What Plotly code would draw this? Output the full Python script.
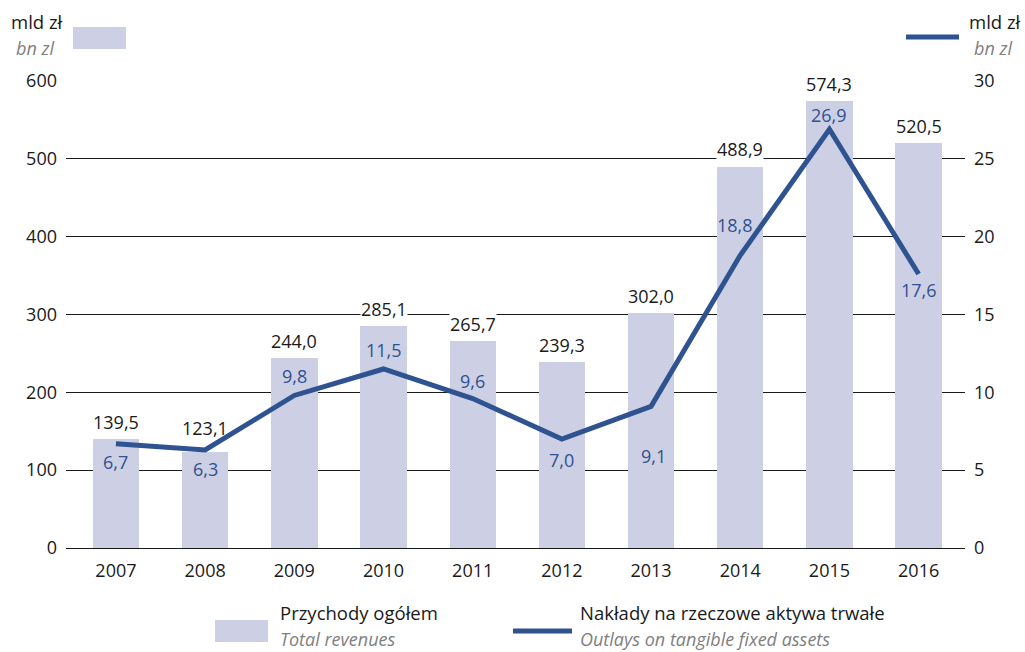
import plotly.graph_objects as go

years = [2007, 2008, 2009, 2010, 2011, 2012, 2013, 2014, 2015, 2016]
revenues = [139.5, 123.1, 244.0, 285.1, 265.7, 239.3, 302.0, 488.9, 574.3, 520.5]
outlays = [6.7, 6.3, 9.8, 11.5, 9.6, 7.0, 9.1, 18.8, 26.9, 17.6]

# label placement (pixel shifts relative to each bar top / line point)
revenue_dy = [17, 24, 17, 17, 17, 17, 17, 18, 17, 17]
outlay_dy = [-18, -19, 19, 19, 18, -21, -50, 30, 14, -16]
outlay_dx = [0, 0, 0, 0, 0, 0, 2, -5, 0, 0]

BAR = "#cdd0e4"
LINE = "#2f5290"
TXT = "#1a1a1a"
GREY = "#808080"
FONT = "Open Sans"

# plot area in pixels
L, R, T, B = 66, 965, 81, 548
W, H = 1025, 652


def px(x):
    return (x - L) / (R - L)


def py(y):
    return (B - y) / (B - T)


def fmt(v):
    return f"{v:.1f}".replace(".", ",")


fig = go.Figure()
fig.add_trace(go.Bar(x=years, y=revenues, marker=dict(color=BAR, line=dict(width=0)),
                     width=0.52, showlegend=False, hoverinfo="skip"))
fig.add_trace(go.Scatter(x=years, y=outlays, yaxis="y2", mode="lines",
                         line=dict(color=LINE, width=5), showlegend=False,
                         hoverinfo="skip"))

ann = []
for i, (x, v, dy) in enumerate(zip(years, revenues, revenue_dy)):
    # white backing breaks the gridlines behind the labels; the 2008 label sits
    # right beside the line, so it is left unbacked to keep the line whole
    bg = "rgba(0,0,0,0)" if x == 2008 else "white"
    ann.append(dict(x=x, y=v, xref="x", yref="y", text=fmt(v), showarrow=False,
                    yanchor="middle", yshift=dy, bgcolor=bg, borderpad=0,
                    font=dict(family=FONT, size=18, color=TXT)))
for x, v, dy, dx in zip(years, outlays, outlay_dy, outlay_dx):
    ann.append(dict(x=x, y=v, xref="x", yref="y2", text=fmt(v), showarrow=False,
                    yanchor="middle", yshift=dy, xshift=dx,
                    font=dict(family=FONT, size=18, color=LINE)))


def caption(x, y, text, xanchor, yanchor, color, size):
    return dict(x=px(x), y=py(y), xref="paper", yref="paper", text=text, showarrow=False,
                xanchor=xanchor, yanchor=yanchor, borderpad=0,
                font=dict(family=FONT, size=size, color=color))


# unit captions (Polish above, English below) and bottom legend
ann += [
    caption(10, 35, "mld zł", "left", "bottom", TXT, 18.5),
    caption(15, 35, "<i>bn zl</i>", "left", "top", GREY, 18),
    caption(1022, 35, "mld zł", "right", "bottom", TXT, 18.5),
    caption(1013, 35, "<i>bn zl</i>", "right", "top", GREY, 18),
    caption(279, 626, "Przychody ogółem", "left", "bottom", TXT, 18.5),
    caption(279, 626, "<i>Total revenues</i>", "left", "top", GREY, 18),
    caption(579, 626, "Nakłady na rzeczowe aktywa trwałe", "left", "bottom", TXT, 18.5),
    caption(579, 626, "<i>Outlays on tangible fixed assets</i>", "left", "top", GREY, 18),
]

shapes = [
    dict(type="rect", xref="paper", yref="paper", x0=px(73), x1=px(126), y0=py(27), y1=py(49),
         fillcolor=BAR, line=dict(width=0)),
    dict(type="line", xref="paper", yref="paper", x0=px(906), x1=px(959), y0=py(37), y1=py(37),
         line=dict(color=LINE, width=5)),
    dict(type="rect", xref="paper", yref="paper", x0=px(215), x1=px(268), y0=py(620), y1=py(642),
         fillcolor=BAR, line=dict(width=0)),
    dict(type="line", xref="paper", yref="paper", x0=px(513), x1=px(572), y0=py(631), y1=py(631),
         line=dict(color=LINE, width=5)),
]

fig.update_layout(
    width=W, height=H,
    margin=dict(l=L, r=W - R, t=T, b=H - B, pad=0),
    paper_bgcolor="white", plot_bgcolor="white",
    font=dict(family=FONT, size=18, color=TXT),
    bargap=0,
    xaxis=dict(range=[2006.44, 2016.52], tickmode="array", tickvals=years,
               ticktext=[str(y) for y in years], showgrid=False, zeroline=False,
               showline=False, ticks="", ticklabelstandoff=10,
               tickfont=dict(size=18, color=TXT)),
    yaxis=dict(range=[0, 600], dtick=100, showgrid=True, gridcolor="#1a1a1a", gridwidth=1,
               zeroline=True, zerolinecolor="#1a1a1a", zerolinewidth=1, ticks="",
               showline=False, ticklabelstandoff=8, tickfont=dict(size=18, color=TXT)),
    yaxis2=dict(range=[0, 30], dtick=5, overlaying="y", side="right", showgrid=False,
                zeroline=False, ticks="", showline=False, ticklabelstandoff=8,
                tickfont=dict(size=18, color=TXT)),
    annotations=ann,
    shapes=shapes,
)

fig.write_html("out.html")
